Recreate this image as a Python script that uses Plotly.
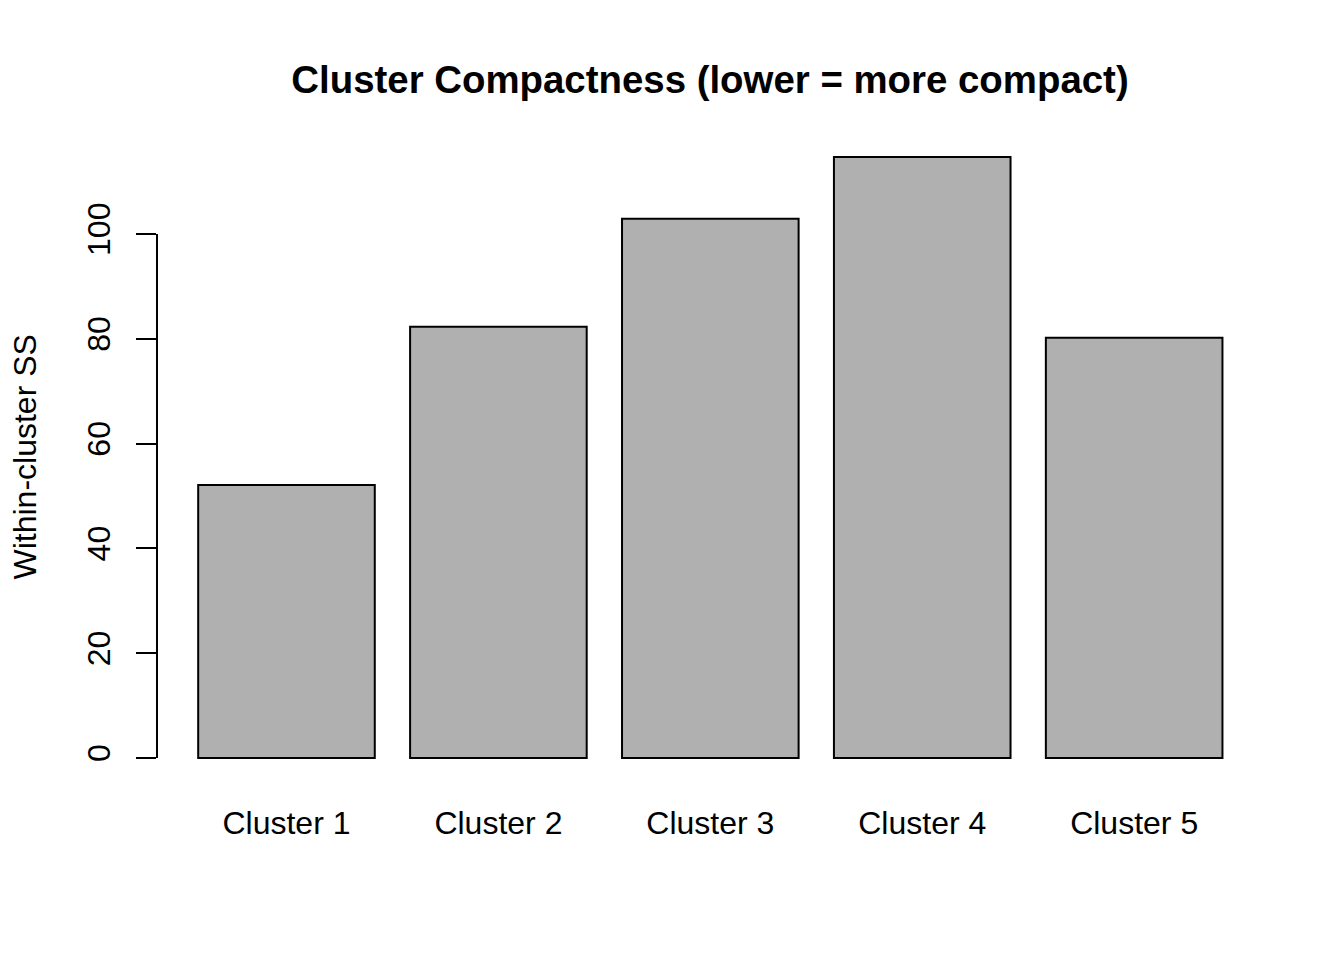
import plotly.graph_objects as go

categories = ["Cluster 1", "Cluster 2", "Cluster 3", "Cluster 4", "Cluster 5"]
within_ss = [52.1, 82.3, 102.9, 114.7, 80.2]
y_ticks = [0, 20, 40, 60, 80, 100]

FONT = "Liberation Sans, Arial, Helvetica, sans-serif"

fig = go.Figure()
fig.add_trace(go.Bar(
    x=categories, y=within_ss,
    marker=dict(color="#B0B0B0", line=dict(color="black", width=2)),
    width=0.8333,
))

ymax = max(within_ss)
pad = 0.04 * ymax

L, R, T, B = 149, 89, 125, 186

fig.update_layout(
    width=1344, height=960,
    margin=dict(l=L, r=R, t=T, b=B),
    paper_bgcolor="white", plot_bgcolor="white",
    font=dict(family=FONT, size=32, color="black"),
    showlegend=False,
    title=dict(text="<b>Cluster Compactness (lower = more compact)</b>",
               x=(L + (1344 - R)) / 2 / 1344, xanchor="center",
               y=1 - 72 / 960, yanchor="middle",
               font=dict(size=38.4, family=FONT, color="black")),
    xaxis=dict(range=[-0.611, 4.608], showline=False, showgrid=False,
               zeroline=False, ticks="", ticklabelstandoff=19,
               tickfont=dict(size=32)),
    yaxis=dict(range=[-pad, ymax + pad], showline=False, showgrid=False,
               zeroline=False, tickmode="array", tickvals=y_ticks,
               ticktext=[str(v) for v in y_ticks],
               ticks="outside", ticklen=20, tickwidth=2, tickcolor="black",
               tickangle=-90, ticklabelstandoff=13,
               tickfont=dict(size=32)),
)

fig.add_shape(type="line", xref="paper", yref="y",
              x0=0, x1=0, y0=min(y_ticks), y1=max(y_ticks),
              line=dict(color="black", width=2))

fig.add_annotation(text="Within-cluster SS", xref="paper", yref="paper",
                   x=0, y=0.5, xshift=-133, textangle=-90,
                   xanchor="center", yanchor="middle", showarrow=False,
                   font=dict(size=32, family=FONT, color="black"))

fig.write_html("out.html")
